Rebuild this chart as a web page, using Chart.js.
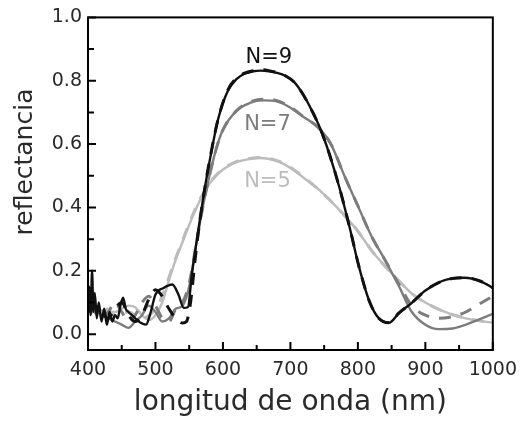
<!DOCTYPE html>
<html>
<head>
<meta charset="utf-8">
<script src="https://cdn.jsdelivr.net/npm/chart.js@4"></script>
<style>
  html, body { margin: 0; padding: 0; background: #fff; }
  #wrap { width: 526px; height: 423px; }
</style>
</head>
<body>
<div id="wrap"><canvas id="myChart"></canvas></div>
<script>
// tick values
const xTicks = [400, 500, 600, 700, 800, 900, 1000];
const xMinor = [450, 550, 650, 750, 850, 950];
const yTicks = [0.0, 0.2, 0.4, 0.6, 0.8, 1.0];
const yMinor = [0.1, 0.3, 0.5, 0.7, 0.9];

// N=9 measured (black solid)
const n9ExpX = [400, 402, 404, 406, 408, 410, 413, 416, 420, 424, 428, 432, 436, 440, 444, 448, 452, 456, 460, 465, 470, 478, 486, 493, 500, 512, 525, 534, 542, 548, 554, 564, 573, 583, 593, 607, 620, 632, 645, 656, 668, 680, 693, 705, 719, 732, 744, 758, 773, 788, 802, 817, 831, 846, 861, 880, 899, 924, 940, 958, 982, 1000];
const n9ExpY = [0.08, 0.15, 0.06, 0.20, 0.07, 0.13, 0.05, 0.10, 0.04, 0.08, 0.03, 0.07, 0.04, 0.06, 0.05, 0.09, 0.115, 0.08, 0.07, 0.06, 0.05, 0.036, 0.03, 0.07, 0.125, 0.146, 0.157, 0.125, 0.083, 0.085, 0.19, 0.335, 0.46, 0.577, 0.68, 0.767, 0.805, 0.822, 0.83, 0.832, 0.83, 0.825, 0.815, 0.797, 0.756, 0.705, 0.65, 0.567, 0.46, 0.335, 0.21, 0.104, 0.05, 0.036, 0.067, 0.099, 0.136, 0.167, 0.176, 0.178, 0.167, 0.146];

// N=9 calculated (black dashed)
const n9CalX = [400, 410, 420, 430, 440, 450, 460, 470, 480, 490, 500, 510, 520, 530, 540, 546, 552, 558, 564, 573, 583, 593, 607, 620, 632, 645, 656, 668, 680, 693, 705, 719, 732, 744, 758, 773, 788, 802, 817, 831, 846, 861, 880, 899, 924, 940, 958, 982, 1000];
const n9CalY = [0.07, 0.09, 0.07, 0.05, 0.08, 0.10, 0.06, 0.04, 0.06, 0.11, 0.14, 0.12, 0.08, 0.05, 0.035, 0.04, 0.10, 0.22, 0.33, 0.46, 0.58, 0.68, 0.77, 0.808, 0.824, 0.832, 0.835, 0.832, 0.826, 0.815, 0.797, 0.756, 0.705, 0.65, 0.567, 0.46, 0.335, 0.21, 0.104, 0.05, 0.036, 0.067, 0.099, 0.136, 0.167, 0.176, 0.178, 0.167, 0.146];

// N=7 measured (gray solid)
const n7ExpX = [400, 410, 420, 430, 440, 450, 460, 470, 480, 490, 500, 510, 520, 530, 540, 550, 560, 570, 580, 590, 600, 620, 640, 660, 680, 700, 720, 740, 760, 780, 800, 820, 840, 860, 880, 900, 920, 940, 960, 980, 1000];
const n7ExpY = [0.07, 0.08, 0.06, 0.05, 0.04, 0.03, 0.02, 0.04, 0.06, 0.09, 0.07, 0.04, 0.05, 0.08, 0.09, 0.15, 0.28, 0.40, 0.50, 0.585, 0.645, 0.705, 0.73, 0.738, 0.735, 0.715, 0.685, 0.655, 0.60, 0.50, 0.405, 0.31, 0.235, 0.155, 0.07, 0.03, 0.016, 0.018, 0.03, 0.047, 0.064];

// N=7 calculated (gray dashed)
const n7CalX = [400, 410, 420, 430, 440, 450, 460, 470, 480, 490, 500, 510, 520, 530, 540, 550, 560, 570, 580, 590, 600, 620, 640, 660, 680, 700, 720, 740, 760, 780, 800, 820, 840, 860, 880, 900, 920, 940, 960, 980, 1000];
const n7CalY = [0.09, 0.07, 0.05, 0.07, 0.10, 0.07, 0.04, 0.06, 0.10, 0.12, 0.09, 0.05, 0.04, 0.08, 0.10, 0.16, 0.28, 0.40, 0.50, 0.585, 0.645, 0.705, 0.733, 0.742, 0.737, 0.717, 0.685, 0.655, 0.60, 0.50, 0.405, 0.31, 0.235, 0.16, 0.09, 0.06, 0.05, 0.055, 0.07, 0.095, 0.12];

// N=5 measured (light gray solid)
const n5ExpX = [400, 420, 440, 460, 470, 480, 490, 500, 510, 520, 530, 540, 550, 560, 570, 580, 590, 600, 620, 640, 655, 680, 700, 720, 740, 760, 780, 800, 820, 840, 860, 880, 900, 920, 940, 960, 980, 1000];
const n5ExpY = [0.08, 0.075, 0.07, 0.09, 0.085, 0.06, 0.045, 0.06, 0.10, 0.17, 0.235, 0.29, 0.345, 0.395, 0.44, 0.475, 0.50, 0.52, 0.543, 0.553, 0.556, 0.546, 0.525, 0.493, 0.46, 0.42, 0.375, 0.325, 0.265, 0.215, 0.17, 0.128, 0.10, 0.078, 0.062, 0.05, 0.042, 0.036];

// N=5 calculated (light gray dashed)
const n5CalX = [400, 420, 440, 460, 480, 500, 510, 520, 530, 540, 550, 560, 570, 580, 590, 600, 620, 640, 655, 680, 700, 720, 740, 760, 780, 800, 820, 840, 860, 880, 900, 920, 940, 960, 980, 1000];
const n5CalY = [0.06, 0.09, 0.06, 0.07, 0.05, 0.08, 0.12, 0.18, 0.24, 0.295, 0.35, 0.40, 0.442, 0.477, 0.502, 0.522, 0.545, 0.555, 0.558, 0.548, 0.527, 0.495, 0.46, 0.42, 0.375, 0.325, 0.265, 0.215, 0.17, 0.128, 0.10, 0.078, 0.062, 0.05, 0.042, 0.036];

// curve labels
const labelText = ['N=9', 'N=7', 'N=5'];
const labelX = [668, 666, 666];
const labelY = [0.872, 0.662, 0.483];
const labelColor = ['#111111', '#7c7c7c', '#bcbcbc'];

const BLACK = '#111111';
const GRAY = '#7c7c7c';
const LIGHT = '#bcbcbc';
const TEXT = '#2a2a2a';

function pts(xs, ys) {
  return xs.map((x, i) => ({ x: x, y: ys[i] }));
}

function line(label, xs, ys, color, dashed) {
  return {
    label: label,
    data: pts(xs, ys),
    borderColor: color,
    borderWidth: dashed ? 3 : 2.4,
    borderDash: dashed ? [12, 10] : [],
    pointRadius: 0,
    fill: false,
    cubicInterpolationMode: 'monotone'
  };
}

const FONT = '"DejaVu Sans", sans-serif';

// frame, inward ticks, y title and curve labels
const framePlugin = {
  id: 'frame',
  afterDatasetsDraw(chart) {
    const ctx = chart.ctx;
    const a = chart.chartArea;
    const xs = chart.scales.x;
    const ys = chart.scales.y;
    ctx.save();
    ctx.strokeStyle = '#000';
    ctx.lineWidth = 2;
    ctx.strokeRect(a.left, a.top, a.right - a.left, a.bottom - a.top);
    ctx.beginPath();
    xTicks.forEach(v => {
      const p = xs.getPixelForValue(v);
      ctx.moveTo(p, a.bottom); ctx.lineTo(p, a.bottom - 8);
    });
    xMinor.forEach(v => {
      const p = xs.getPixelForValue(v);
      ctx.moveTo(p, a.bottom); ctx.lineTo(p, a.bottom - 5);
    });
    yTicks.forEach(v => {
      const p = ys.getPixelForValue(v);
      ctx.moveTo(a.left, p); ctx.lineTo(a.left + 8, p);
    });
    yMinor.forEach(v => {
      const p = ys.getPixelForValue(v);
      ctx.moveTo(a.left, p); ctx.lineTo(a.left + 6, p);
    });
    ctx.stroke();

    ctx.font = '21px ' + FONT;
    ctx.textAlign = 'center';
    ctx.textBaseline = 'middle';
    labelText.forEach((t, i) => {
      ctx.fillStyle = labelColor[i];
      ctx.fillText(t, xs.getPixelForValue(labelX[i]), ys.getPixelForValue(labelY[i]));
    });

    // y axis title, sits a bit above the axis middle
    ctx.fillStyle = TEXT;
    ctx.font = '25px ' + FONT;
    ctx.translate(25, 162);
    ctx.rotate(-Math.PI / 2);
    ctx.fillText('reflectancia', 0, 0);
    ctx.restore();
  }
};

const chartCtx = document.getElementById('myChart').getContext('2d');
const chart = new Chart(chartCtx, {
  type: 'line',
  data: {
    datasets: [
      line('N=9 exp', n9ExpX, n9ExpY, BLACK, false),
      line('N=9 calc', n9CalX, n9CalY, BLACK, true),
      line('N=7 exp', n7ExpX, n7ExpY, GRAY, false),
      line('N=7 calc', n7CalX, n7CalY, GRAY, true),
      line('N=5 exp', n5ExpX, n5ExpY, LIGHT, false),
      line('N=5 calc', n5CalX, n5CalY, LIGHT, true)
    ]
  },
  options: {
    responsive: true,
    maintainAspectRatio: false,
    animation: false,
    layout: { padding: { top: 15, right: 27, left: 0, bottom: 0 } },
    plugins: {
      legend: { display: false },
      tooltip: { enabled: false }
    },
    scales: {
      x: {
        type: 'linear',
        min: 400,
        max: 1000,
        afterBuildTicks: s => { s.ticks = xTicks.map(v => ({ value: v })); },
        afterFit: s => { s.height = 73; },
        grid: { display: false, drawTicks: false },
        border: { display: false },
        ticks: {
          padding: 9,
          color: TEXT,
          font: { family: FONT, size: 19 },
          callback: v => String(v),
          maxRotation: 0
        },
        title: {
          display: true,
          text: 'longitud de onda (nm)',
          color: TEXT,
          font: { family: FONT, size: 28 },
          padding: { top: 0, bottom: 3 }
        }
      },
      y: {
        type: 'linear',
        min: -0.05,
        max: 1.0,
        afterBuildTicks: s => { s.ticks = yTicks.map(v => ({ value: v })); },
        afterFit: s => { s.width = 88; },
        grid: { display: false, drawTicks: false },
        border: { display: false },
        ticks: {
          padding: 6,
          color: TEXT,
          font: { family: FONT, size: 19 },
          callback: v => v.toFixed(1)
        }
      }
    }
  },
  plugins: [framePlugin]
});
</script>
</body>
</html>
